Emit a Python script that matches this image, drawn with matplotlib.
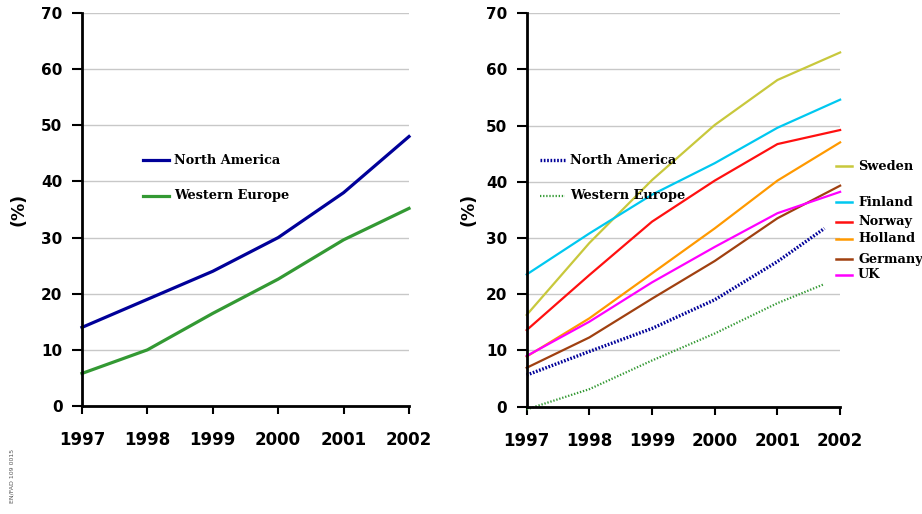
import matplotlib
matplotlib.use("Agg")
import matplotlib.pyplot as plt
import matplotlib.transforms as mtransforms

years = [1997, 1998, 1999, 2000, 2001, 2002]
year_labels = ["1997", "1998", "1999", "2000", "2001", "2002"]
y_ticks = [0, 10, 20, 30, 40, 50, 60, 70]

# regional averages (left panel)
north_america = [14.0, 19.0, 24.0, 30.0, 38.0, 48.0]
western_europe = [5.8, 10.0, 16.5, 22.6, 29.6, 35.2]

# regional averages repeated on the right, series stop short of 2002
region_years = [1997, 1998, 1999, 2000, 2001, 2001.75]
north_america_r = [5.6, 9.8, 13.9, 19.0, 25.8, 31.7]
western_europe_r = [-0.5, 3.1, 8.2, 13.0, 18.4, 21.8]

# countries (right panel)
sweden = [16.3, 29.1, 40.3, 50.1, 58.1, 63.0]
finland = [23.5, 30.8, 37.7, 43.3, 49.6, 54.6]
norway = [13.6, 23.4, 32.9, 40.2, 46.7, 49.2]
holland = [8.9, 15.7, 23.7, 31.7, 40.2, 47.0]
germany = [6.9, 12.3, 19.2, 25.9, 33.5, 39.3]
uk = [9.0, 15.1, 22.1, 28.4, 34.4, 38.2]

countries = ["Sweden", "Finland", "Norway", "Holland", "Germany", "UK"]
country_values = [sweden, finland, norway, holland, germany, uk]
country_colors = ["#c8c83c", "#00c8f0", "#ff1010", "#ff9900", "#a04010", "#ff00ff"]

NAVY = "#000099"
GREEN = "#339933"

tick_font = dict(family="DejaVu Sans", weight="bold")
legend_font = dict(family="DejaVu Serif", weight="bold", size=9.3)

fig = plt.figure(figsize=(9.22, 5.14), dpi=100)
ax1 = fig.add_axes([0.0889, 0.2101, 0.3547, 0.7646])
ax2 = fig.add_axes([0.5712, 0.2090, 0.3400, 0.7655])


def style_axes(ax, labelpad):
    ax.set_xlim(1997, 2002)
    ax.set_ylim(0, 70)
    ax.set_yticks(y_ticks)
    ax.set_xticks(years)
    ax.set_xticklabels(year_labels, fontsize=12, **tick_font)
    ax.set_yticklabels([str(v) for v in y_ticks], fontsize=11, **tick_font)
    for s in ["top", "right"]:
        ax.spines[s].set_visible(False)
    for s in ["left", "bottom"]:
        ax.spines[s].set_linewidth(2)
        ax.spines[s].set_zorder(5)
    ax.yaxis.grid(True, color="#c8c8c8", linewidth=1)
    ax.set_axisbelow(True)
    ax.tick_params(axis="y", direction="out", length=7, width=1.5, pad=7)
    ax.tick_params(axis="x", direction="out", length=6, width=1.5, pad=12)
    ax.set_ylabel("(%)", fontsize=12.5, labelpad=labelpad, **tick_font)


style_axes(ax1, 10)
style_axes(ax2, 6)

# left panel
ax1.plot(years, north_america, color=NAVY, linewidth=2.3, clip_on=False, zorder=3)
ax1.plot(years, western_europe, color=GREEN, linewidth=2.3, clip_on=False, zorder=3)

tr1 = mtransforms.blended_transform_factory(fig.transFigure, fig.transFigure)
for label, color, yy in [("North America", NAVY, 514 - 160), ("Western Europe", GREEN, 514 - 196)]:
    fig.lines.append(plt.Line2D([143 / 922, 169 / 922], [yy / 514, yy / 514],
                                color=color, linewidth=2.3, transform=tr1))
    fig.text(174 / 922, yy / 514, label, va="center", ha="left", **legend_font)

# right panel
for vals, color in zip(country_values, country_colors):
    ax2.plot(years, vals, color=color, linewidth=1.6, clip_on=False, zorder=3)
ax2.plot(region_years, north_america_r, color=NAVY, linewidth=2.4,
         linestyle=(0, (0.5, 0.5)), clip_on=False, zorder=3)
ax2.plot(region_years, western_europe_r, color=GREEN, linewidth=1.6,
         linestyle=(0, (0.6, 0.8)), clip_on=False, zorder=3)

for label, color, yy, lw, ls in [("North America", NAVY, 514 - 160, 2.4, (0, (0.5, 0.5))),
                                 ("Western Europe", GREEN, 514 - 196, 1.6, (0, (0.6, 0.8)))]:
    fig.lines.append(plt.Line2D([540 / 922, 565 / 922], [yy / 514, yy / 514],
                                color=color, linewidth=lw, linestyle=ls, transform=tr1))
    fig.text(570 / 922, yy / 514, label, va="center", ha="left", **legend_font)

country_key_y = [166, 202, 222, 239, 259, 275]
for label, color, yy in zip(countries, country_colors, country_key_y):
    fy = (514 - yy) / 514
    fig.lines.append(plt.Line2D([836 / 922, 852 / 922], [fy, fy],
                                color=color, linewidth=1.8, transform=tr1))
    fig.text(858 / 922, fy, label, va="center", ha="left", **legend_font)

fig.text(12 / 922, (514 - 476) / 514, "EN/FAD 109 0015", rotation=90, fontsize=4.5,
         color="#555555", va="center", ha="center", family="DejaVu Sans")

fig.savefig("out.png", dpi=100)
